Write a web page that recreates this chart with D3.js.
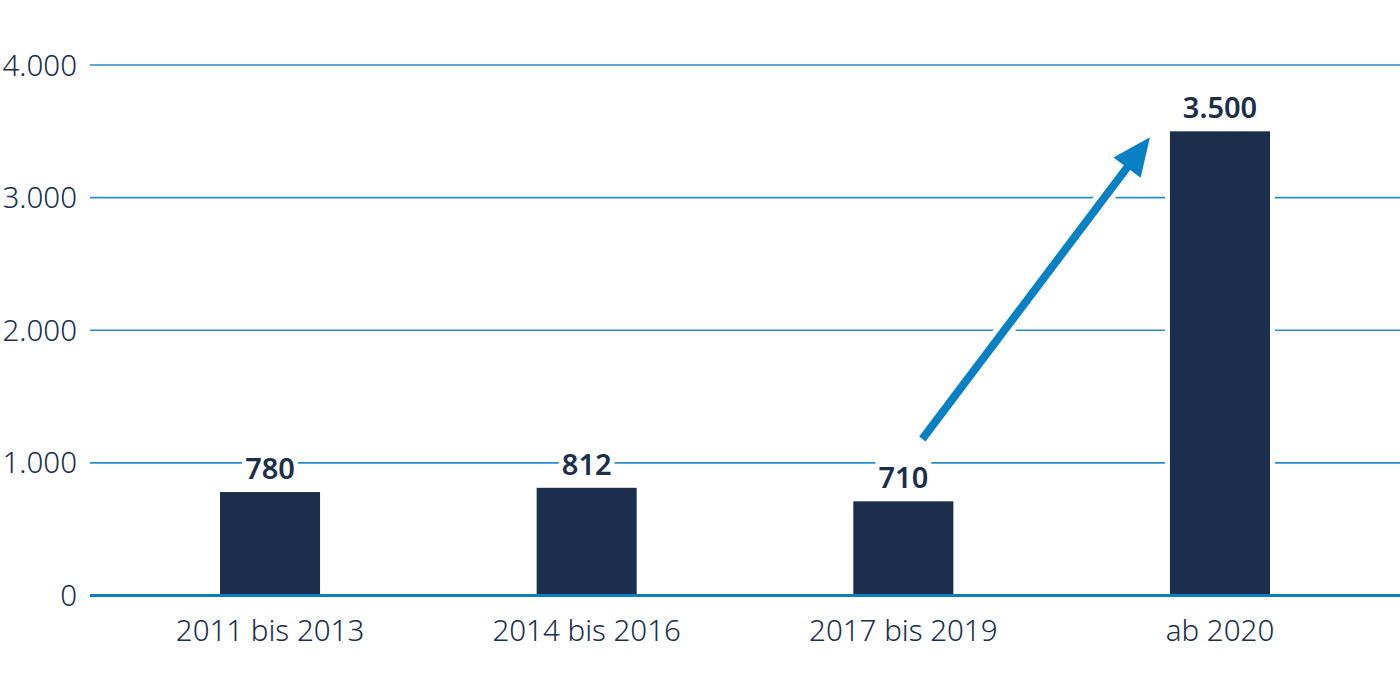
<!DOCTYPE html>
<html>
<head>
<meta charset="utf-8">
<script src="https://cdn.jsdelivr.net/npm/d3@7"></script>
<style>
    body { margin: 0; background: #fff; }
    text { font-family: "Noto Sans", sans-serif; fill: #1b2e4c; }
    .grid line { stroke: #2a8cca; stroke-width: 1.6; }
    .axis-label { font-size: 29.5px; font-weight: 300; }
    .bar-label { font-size: 29px; font-weight: 600; }
</style>
</head>
<body>
<div id="chart"></div>
<script>
// Chart data
const categories = ["2011 bis 2013", "2014 bis 2016", "2017 bis 2019", "ab 2020"];
const values = [780, 812, 710, 3500];
const valueLabels = ["780", "812", "710", "3.500"];
const yTicks = [0, 1000, 2000, 3000, 4000];
const yTickLabels = ["0", "1.000", "2.000", "3.000", "4.000"];

// Arrow annotation (category, value) from -> to
const arrowFrom = ["2017 bis 2019", 1180];
const arrowTo = ["ab 2020", 3455];

const width = 1400, height = 700;

let svg = d3.select("#chart")
    .append("svg")
    .attr("width", width)
    .attr("height", height);

// Scales
let x = d3.scaleBand()
    .domain(categories)
    .range([111.7, 1378.3])
    .paddingInner(0.684)
    .paddingOuter(0.342);

let y = d3.scaleLinear()
    .domain([0, 4000])
    .range([595.5, 65]);

// Gridlines
svg.append("g")
    .attr("class", "grid")
    .selectAll("line")
    .data(yTicks.slice(1))
    .enter()
    .append("line")
    .attr("x1", 90)
    .attr("x2", width)
    .attr("y1", d => y(d))
    .attr("y2", d => y(d));

// Y tick labels
svg.append("g")
    .selectAll("text")
    .data(yTicks)
    .enter()
    .append("text")
    .attr("class", "axis-label")
    .attr("x", 77)
    .attr("y", d => y(d))
    .attr("dy", "0.36em")
    .attr("text-anchor", "end")
    .text((d, i) => yTickLabels[i]);

// White halo around bars so gridlines break there
svg.append("g")
    .selectAll("rect")
    .data(values)
    .enter()
    .append("rect")
    .attr("x", (d, i) => x(categories[i]) - 5)
    .attr("y", d => y(d))
    .attr("width", x.bandwidth() + 10)
    .attr("height", d => y(0) - y(d))
    .attr("fill", "#fff");

// Bars
svg.append("g")
    .selectAll("rect")
    .data(values)
    .enter()
    .append("rect")
    .attr("x", (d, i) => x(categories[i]))
    .attr("y", d => y(d))
    .attr("width", x.bandwidth())
    .attr("height", d => y(0) - y(d))
    .attr("fill", "#1b2e4c");

// Value labels with white background
let labels = svg.append("g")
    .selectAll("g")
    .data(values)
    .enter()
    .append("g")
    .attr("transform", (d, i) => `translate(${x(categories[i]) + x.bandwidth() / 2}, ${y(d) - 13})`);

labels.append("text")
    .attr("class", "bar-label")
    .attr("text-anchor", "middle")
    .text((d, i) => valueLabels[i]);

labels.each(function() {
    let g = d3.select(this);
    let bb = g.select("text").node().getBBox();
    g.insert("rect", "text")
        .attr("x", bb.x - 3)
        .attr("y", bb.y)
        .attr("width", bb.width + 6)
        .attr("height", bb.height)
        .attr("fill", "#fff");
});

// Arrow
let ax1 = x(arrowFrom[0]) + x.bandwidth() * 0.69,
    ay1 = y(arrowFrom[1]),
    ax2 = x(arrowTo[0]) - x.bandwidth() * 0.2,
    ay2 = y(arrowTo[1]);
let angle = Math.atan2(ay2 - ay1, ax2 - ax1);
let headLen = 38, headHalf = 17;
let bx = ax2 - headLen * Math.cos(angle),
    by = ay2 - headLen * Math.sin(angle);
let px = -Math.sin(angle), py = Math.cos(angle);
let arrowG = svg.append("g");

// halo
arrowG.append("line")
    .attr("x1", ax1).attr("y1", ay1)
    .attr("x2", bx).attr("y2", by)
    .attr("stroke", "#fff")
    .attr("stroke-width", 18);

arrowG.append("line")
    .attr("x1", ax1).attr("y1", ay1)
    .attr("x2", bx + 4 * Math.cos(angle)).attr("y2", by + 4 * Math.sin(angle))
    .attr("stroke", "#0781c4")
    .attr("stroke-width", 8);

arrowG.append("path")
    .attr("d", `M${ax2},${ay2}L${bx + px * headHalf},${by + py * headHalf}L${bx - px * headHalf},${by - py * headHalf}Z`)
    .attr("fill", "#0781c4");

// Baseline
svg.append("line")
    .attr("x1", 90)
    .attr("x2", width)
    .attr("y1", y(0))
    .attr("y2", y(0))
    .attr("stroke", "#0a7fc1")
    .attr("stroke-width", 3);

// Category labels
svg.append("g")
    .selectAll("text")
    .data(categories)
    .enter()
    .append("text")
    .attr("class", "axis-label")
    .attr("x", d => x(d) + x.bandwidth() / 2)
    .attr("y", 641)
    .attr("text-anchor", "middle")
    .text(d => d);
</script>
</body>
</html>
